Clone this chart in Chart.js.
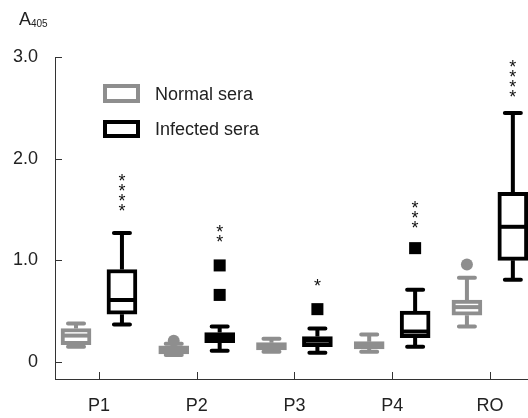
<!DOCTYPE html>
<html>
<head>
<meta charset="utf-8">
<script src="https://cdn.jsdelivr.net/npm/chart.js@4"></script>
<style>
  body { margin: 0; background: #fff; }
</style>
</head>
<body>
<canvas id="chart" width="528" height="418"></canvas>
<script>
// categories and tick labels
const categories = ["P1", "P2", "P3", "P4", "RO"];
const yTicks = [0, 1, 2, 3];

// normal sera: five-number summaries
const normalMin = [0.15, 0.07, 0.10, 0.10, 0.35];
const normalQ1 = [0.17, 0.08, 0.12, 0.13, 0.46];
const normalMedian = [0.26, 0.12, 0.15, 0.16, 0.54];
const normalQ3 = [0.33, 0.16, 0.19, 0.20, 0.61];
const normalMax = [0.38, 0.18, 0.23, 0.27, 0.83];
const normalOutliers = [[], [0.21], [], [], [0.96]];

// infected sera: five-number summaries
const infectedMin = [0.37, 0.11, 0.09, 0.15, 0.81];
const infectedQ1 = [0.47, 0.19, 0.15, 0.24, 1.00];
const infectedMedian = [0.61, 0.24, 0.21, 0.30, 1.33];
const infectedQ3 = [0.91, 0.29, 0.25, 0.50, 1.67];
const infectedMax = [1.27, 0.35, 0.33, 0.71, 2.45];
const infectedOutliers = [[], [0.66, 0.95], [0.52], [1.12], []];

// significance stars (count, value of lowest star)
const starCounts = [4, 2, 1, 3, 4];
const starBase = [1.52, 1.22, 0.79, 1.36, 2.65];

const GRAY = "#8e8e8e";
const BLACK = "#000000";
const SHIFT = 0.235;
const FONT = "'Liberation Sans', Arial, Helvetica, sans-serif";

function boxData(q1, q3, shift) {
  return categories.map((c, i) => ({ x: i + 1 + shift, y: [q1[i], q3[i]] }));
}

function outlierData(list, shift) {
  let pts = [];
  list.forEach((vals, i) => vals.forEach(v => pts.push({ x: i + 1 + shift, y: v })));
  return pts;
}

const groups = [
  { shift: -SHIFT, color: GRAY, min: normalMin, med: normalMedian, max: normalMax, q1: normalQ1, q3: normalQ3 },
  { shift: SHIFT, color: BLACK, min: infectedMin, med: infectedMedian, max: infectedMax, q1: infectedQ1, q3: infectedQ3 }
];

// whiskers, medians, stars, legend, inward ticks, axis title
const boxExtras = {
  id: "boxExtras",
  afterDatasetsDraw(chart) {
    const ctx = chart.ctx;
    const xs = chart.scales.x;
    const ys = chart.scales.y;
    const area = chart.chartArea;
    ctx.save();
    ctx.lineWidth = 4;
    groups.forEach(g => {
      ctx.strokeStyle = g.color;
      categories.forEach((c, i) => {
        const x = xs.getPixelForValue(i + 1 + g.shift);
        ctx.lineCap = "butt";
        ctx.beginPath();
        ctx.moveTo(x, ys.getPixelForValue(g.q3[i]));
        ctx.lineTo(x, ys.getPixelForValue(g.max[i]));
        ctx.moveTo(x, ys.getPixelForValue(g.q1[i]));
        ctx.lineTo(x, ys.getPixelForValue(g.min[i]));
        ctx.stroke();
        ctx.lineCap = "round";
        ctx.beginPath();
        [g.max[i], g.min[i]].forEach(v => {
          const y = ys.getPixelForValue(v);
          ctx.moveTo(x - 8, y);
          ctx.lineTo(x + 8, y);
        });
        ctx.stroke();
        ctx.lineCap = "butt";
        const ym = ys.getPixelForValue(g.med[i]);
        ctx.beginPath();
        ctx.moveTo(x - 13, ym);
        ctx.lineTo(x + 13, ym);
        ctx.stroke();
      });
    });

    // stars
    ctx.fillStyle = "#111";
    ctx.font = "18px " + FONT;
    ctx.textAlign = "center";
    ctx.textBaseline = "alphabetic";
    categories.forEach((c, i) => {
      const x = xs.getPixelForValue(i + 1 + SHIFT);
      const y0 = ys.getPixelForValue(starBase[i]);
      for (let k = 0; k < starCounts[i]; k++) {
        ctx.fillText("*", x, y0 - k * 10 + 10);
      }
    });

    // inward ticks
    ctx.strokeStyle = "#333";
    ctx.lineWidth = 1;
    ctx.beginPath();
    yTicks.forEach(v => {
      const y = Math.round(ys.getPixelForValue(v)) + 0.5;
      ctx.moveTo(area.left, y);
      ctx.lineTo(area.left + 7, y);
    });
    categories.forEach((c, i) => {
      const x = Math.round(xs.getPixelForValue(i + 1)) + 0.5;
      ctx.moveTo(x, area.bottom);
      ctx.lineTo(x, area.bottom - 7);
    });
    ctx.stroke();

    // legend
    ctx.lineWidth = 4;
    ctx.strokeStyle = GRAY;
    ctx.strokeRect(105, 86, 33, 15);
    ctx.strokeStyle = BLACK;
    ctx.strokeRect(105, 122, 33, 14);
    ctx.fillStyle = "#222";
    ctx.textAlign = "left";
    ctx.textBaseline = "middle";
    ctx.fillText("Normal sera", 155, 95);
    ctx.fillText("Infected sera", 155, 130);

    // axis title A405
    ctx.textBaseline = "alphabetic";
    ctx.font = "18px " + FONT;
    ctx.fillText("A", 19, 25);
    ctx.font = "10px " + FONT;
    ctx.fillText("405", 31, 27);
    ctx.restore();
  }
};

const ctx = document.getElementById("chart");

new Chart(ctx, {
  type: "bar",
  data: {
    datasets: [
      {
        label: "Normal sera",
        data: boxData(normalQ1, normalQ3, -SHIFT),
        backgroundColor: "#fff",
        borderColor: GRAY,
        borderWidth: 4,
        borderSkipped: false,
        barThickness: 30,
        grouped: false,
        clip: false
      },
      {
        label: "Infected sera",
        data: boxData(infectedQ1, infectedQ3, SHIFT),
        backgroundColor: "#fff",
        borderColor: BLACK,
        borderWidth: 4,
        borderSkipped: false,
        barThickness: 30,
        grouped: false,
        clip: false
      },
      {
        type: "scatter",
        label: "normal outliers",
        data: outlierData(normalOutliers, -SHIFT),
        pointStyle: "circle",
        pointRadius: 6,
        backgroundColor: GRAY,
        borderWidth: 0
      },
      {
        type: "scatter",
        label: "infected outliers",
        data: outlierData(infectedOutliers, SHIFT),
        pointStyle: "rect",
        pointRadius: 8.5,
        backgroundColor: BLACK,
        borderWidth: 0
      }
    ]
  },
  options: {
    responsive: false,
    animation: false,
    layout: { autoPadding: false, padding: { top: 57, left: 0, right: 0, bottom: 0 } },
    plugins: {
      legend: { display: false },
      tooltip: { enabled: false }
    },
    scales: {
      x: {
        type: "linear",
        offset: false,
        min: 0.55,
        max: 5.39,
        afterBuildTicks: s => { s.ticks = categories.map((c, i) => ({ value: i + 1 })); },
        afterFit: s => { s.height = 39; s.paddingLeft = 0; s.paddingRight = 0; },
        grid: { display: false, drawTicks: false, offset: false },
        border: { display: true, color: "#333", width: 1 },
        ticks: {
          callback: (v, i) => categories[i],
          autoSkip: false,
          maxRotation: 0,
          padding: 16,
          color: "#222",
          font: { family: FONT, size: 18 }
        }
      },
      y: {
        min: -0.167,
        max: 3.0,
        afterBuildTicks: s => { s.ticks = yTicks.map(v => ({ value: v })); },
        afterFit: s => { s.width = 55; },
        grid: { display: false, drawTicks: false },
        border: { display: true, color: "#333", width: 1 },
        ticks: {
          callback: v => (v === 0 ? "0" : v.toFixed(1)),
          padding: 17,
          color: "#222",
          font: { family: FONT, size: 18 }
        }
      }
    }
  },
  plugins: [boxExtras]
});
</script>
</body>
</html>
